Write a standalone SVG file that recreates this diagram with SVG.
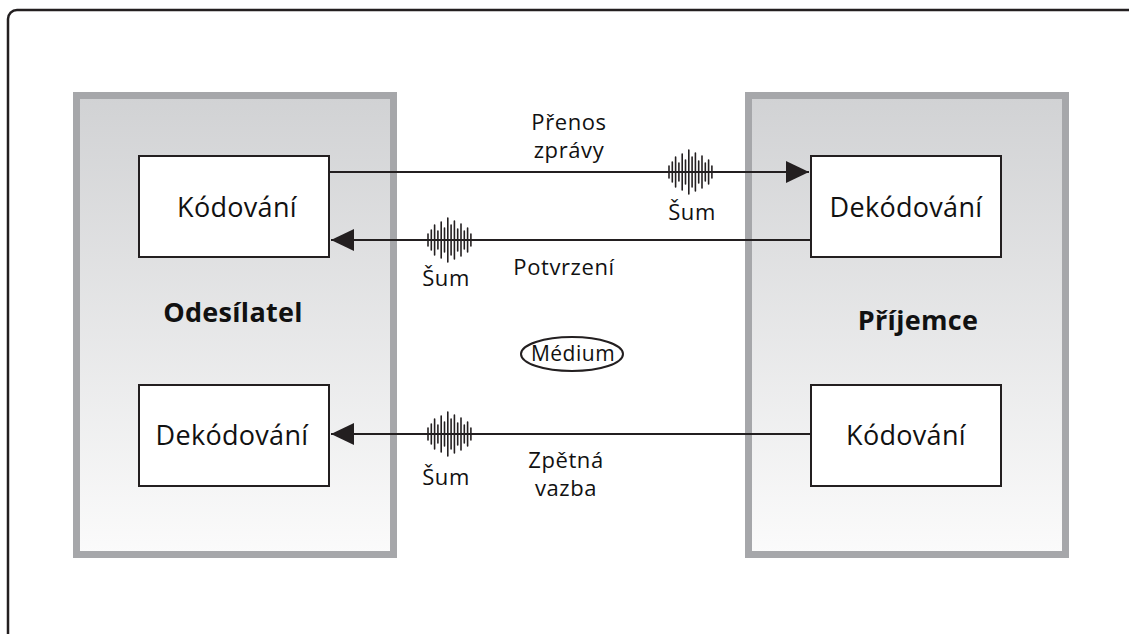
<svg xmlns="http://www.w3.org/2000/svg" xmlns:xlink="http://www.w3.org/1999/xlink" width="1129" height="634" viewBox="0 0 1129 634">
<defs>
<linearGradient id="panelGrad" x1="0" y1="0" x2="0" y2="1">
<stop offset="0" stop-color="#d1d2d4"/>
<stop offset="1" stop-color="#fbfbfb"/>
</linearGradient>
<marker id="arrow" markerWidth="23" markerHeight="22" refX="23" refY="11" orient="auto" markerUnits="userSpaceOnUse" viewBox="0 0 23 22">
<path d="M0,0 L23,11 L0,22 z" fill="#231f20"/>
</marker>
<g id="noise" stroke="#231f20" stroke-width="1.6" stroke-linecap="round">
<line x1="-21" y1="-6" x2="-21" y2="6"/>
<line x1="-17.7" y1="-10" x2="-17.7" y2="10"/>
<line x1="-14.4" y1="-15" x2="-14.4" y2="15"/>
<line x1="-11.1" y1="-9" x2="-11.1" y2="9"/>
<line x1="-7.8" y1="-18" x2="-7.8" y2="18"/>
<line x1="-4.5" y1="-12" x2="-4.5" y2="12"/>
<line x1="-1.2" y1="-22" x2="-1.2" y2="22"/>
<line x1="2.1" y1="-15" x2="2.1" y2="15"/>
<line x1="5.4" y1="-19" x2="5.4" y2="19"/>
<line x1="8.7" y1="-11" x2="8.7" y2="11"/>
<line x1="12" y1="-16" x2="12" y2="16"/>
<line x1="15.3" y1="-9" x2="15.3" y2="9"/>
<line x1="18.6" y1="-12" x2="18.6" y2="12"/>
<line x1="21.9" y1="-6" x2="21.9" y2="6"/>
</g>
</defs>
<style>
.frame{fill:#fff;stroke:#231f20;stroke-width:2.5}
.panel{fill:url(#panelGrad);stroke:#a6a7aa;stroke-width:7}
.box{fill:#fff;stroke:#231f20;stroke-width:2}
.conn{stroke:#231f20;stroke-width:2;fill:none}
text{font-family:"Open Sans","Noto Sans","Liberation Sans",sans-serif;fill:#111;text-anchor:middle}
.lbl{font-size:27px;letter-spacing:0.3px}
.small{font-size:22px;letter-spacing:0.6px}
.med-t{font-size:21px;letter-spacing:0.5px}
.bold{font-size:27px;font-weight:bold;letter-spacing:0.3px}
.med{fill:#fff;stroke:#231f20;stroke-width:2}
</style>
<rect class="frame" x="8" y="10" width="1145" height="640" rx="9"/>
<g id="sender">
<rect class="panel" x="76.5" y="95.5" width="317" height="459"/>
<text class="bold" x="233" y="322">Odesílatel</text>
</g>
<g id="receiver">
<rect class="panel" x="748.5" y="95.5" width="317" height="459"/>
<text class="bold" x="918" y="330">Příjemce</text>
</g>
<g id="enc-sender">
<rect class="box" x="139" y="156" width="190" height="101"/>
<text class="lbl" x="237" y="217">Kódování</text>
</g>
<g id="dec-receiver">
<rect class="box" x="811" y="156" width="190" height="101"/>
<text class="lbl" x="906" y="217">Dekódování</text>
</g>
<g id="dec-sender">
<rect class="box" x="139" y="385" width="190" height="101"/>
<text class="lbl" x="232" y="445">Dekódování</text>
</g>
<g id="enc-receiver">
<rect class="box" x="811" y="385" width="190" height="101"/>
<text class="lbl" x="906" y="445">Kódování</text>
</g>
<g id="medium">
<ellipse class="med" cx="572" cy="354" rx="51" ry="17"/>
<text class="med-t" x="573" y="361">Médium</text>
</g>
<g id="connectors">
<line class="conn" x1="329" y1="172" x2="809" y2="172" marker-end="url(#arrow)"/>
<line class="conn" x1="811" y1="240" x2="331" y2="240" marker-end="url(#arrow)"/>
<line class="conn" x1="811" y1="434" x2="331" y2="434" marker-end="url(#arrow)"/>
<use xlink:href="#noise" href="#noise" x="690" y="172"/>
<use xlink:href="#noise" href="#noise" x="449" y="240"/>
<use xlink:href="#noise" href="#noise" x="449" y="434"/>
<text class="small" x="569" y="130">Přenos</text>
<text class="small" x="569" y="158">zprávy</text>
<text class="small" x="692" y="220">Šum</text>
<text class="small" x="446" y="286">Šum</text>
<text class="small" x="564" y="275">Potvrzení</text>
<text class="small" x="446" y="485">Šum</text>
<text class="small" x="566" y="468">Zpětná</text>
<text class="small" x="566" y="496">vazba</text>
</g>
</svg>
